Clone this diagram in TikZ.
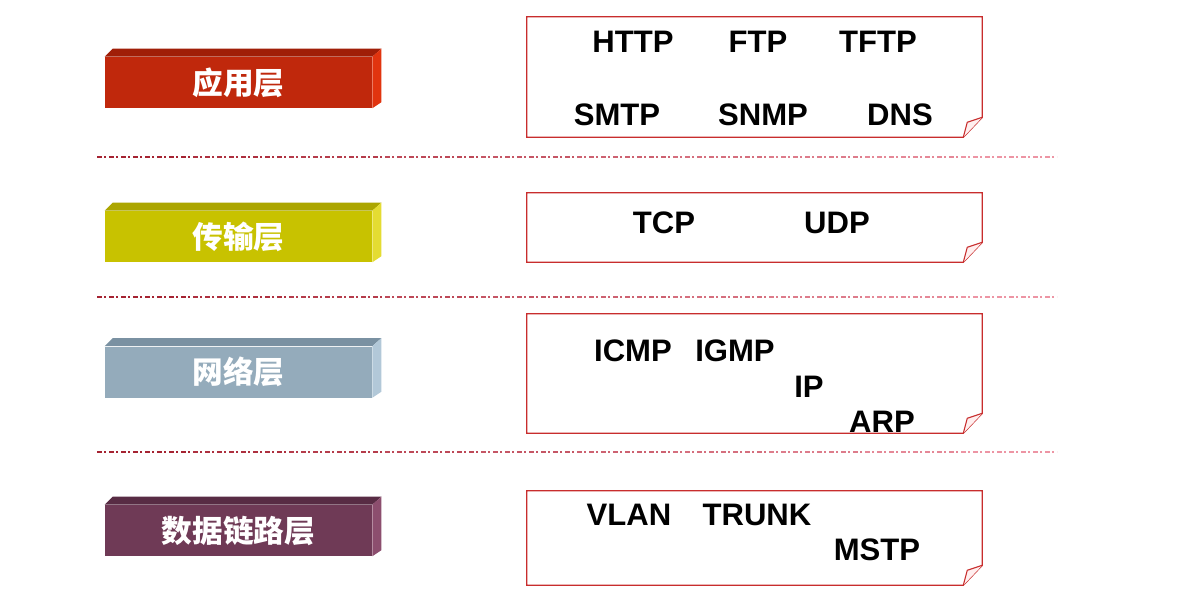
\documentclass[tikz,border=0pt]{standalone}
\usepackage{fontspec}
\setmainfont{Liberation Sans}
\newfontfamily\cjk{Noto Sans CJK SC}
\usetikzlibrary{calc}
\definecolor{boxred}{RGB}{200,45,45}
\definecolor{sepD}{RGB}{165,35,50}
\definecolor{sepL}{RGB}{238,150,165}
\definecolor{rF}{RGB}{192,40,12}\definecolor{rT}{RGB}{160,30,8}\definecolor{rS}{RGB}{225,52,15}
\definecolor{yF}{RGB}{200,194,0}\definecolor{yT}{RGB}{172,166,0}\definecolor{yS}{RGB}{228,220,50}
\definecolor{bF}{RGB}{148,171,187}\definecolor{bT}{RGB}{122,145,162}\definecolor{bS}{RGB}{178,200,216}
\definecolor{pF}{RGB}{111,58,86}\definecolor{pT}{RGB}{88,44,68}\definecolor{pS}{RGB}{140,78,110}
\tikzset{
  x=0.75pt, y=-0.75pt,
  bar/.style={minimum width=200.25pt, minimum height=38.25pt, inner sep=0pt, text=white,
     font=\cjk\bfseries\fontsize{23}{23}\selectfont},
  proto/.style={inner sep=0pt, text=black, font=\bfseries\fontsize{23.3}{23.3}\selectfont},
  boxline/.style={draw=boxred, line width=1pt},
  sep/.style={line width=1.6pt, dash pattern=on 3.75pt off 1.85pt on 1.5pt off 1.9pt},
  frame/.style={minimum width=341.25pt, inner sep=0pt}
}
\newcommand\foldbox[1]{%
  \draw[boxline, fill=white] (#1.north west) -- (#1.north east) -- ($(#1.south east)+(0,-20)$)
     -- ($(#1.south east)+(-19,0)$) -- (#1.south west) -- cycle;
  \filldraw[boxline, fill=pink!25, line width=0.8pt] ($(#1.south east)+(-19,0)$) -- ($(#1.south east)+(-15,-15)$) -- ($(#1.south east)+(0,-20)$);}
\newcommand\barfaces[3]{%
  \fill[#2] (#1.north west) -- ++(8,-8) -- ($(#1.north east)+(9,-8)$) -- (#1.north east) -- cycle;
  \fill[#3] (#1.north east) -- ++(9,-8) -- ($(#1.south east)+(9,-6)$) -- (#1.south east) -- cycle;}
\begin{document}
\begin{tikzpicture}
\useasboundingbox[fill=white] (0,0) rectangle (1198,608);
% separators
\foreach \yy in {157,297,452}{
  \foreach \i in {0,...,9}{
    \pgfmathtruncatemacro\t{100-\i*11}
    \draw[sep, color=sepD!\t!sepL] (97+\i*96,\yy) -- (97+\i*96+96,\yy);
  }
}
% layer bars
\node[bar, fill=rF] (app) at (238.5,82.5) {应用层};
\barfaces{app}{rT}{rS}
\node[bar, fill=yF] (trans) at (238.5,236.5) {传输层};
\barfaces{trans}{yT}{yS}
\node[bar, fill=bF] (net) at (238.5,372) {网络层};
\barfaces{net}{bT}{bS}
\node[bar, fill=pF] (link) at (238.5,530.5) {数据链路层};
\barfaces{link}{pT}{pS}
% protocol frames
\node[frame, minimum height=90pt] (f1) at (754.5,77) {};
\foldbox{f1}
\node[frame, minimum height=51.75pt] (f2) at (754.5,227.5) {};
\foldbox{f2}
\node[frame, minimum height=89.25pt] (f3) at (754.5,373.5) {};
\foldbox{f3}
\node[frame, minimum height=70.5pt] (f4) at (754.5,538) {};
\foldbox{f4}
% protocols
\node[proto] (http) at (633,42) {HTTP};
\node[proto] (ftp) at (758,42) {FTP};
\node[proto] (tftp) at (878,42) {TFTP};
\node[proto] (smtp) at (617,115) {SMTP};
\node[proto] (snmp) at (763,115) {SNMP};
\node[proto] (dns) at (900,115) {DNS};
\node[proto] (tcp) at (664,223) {TCP};
\node[proto] (udp) at (837,223) {UDP};
\node[proto] (icmp) at (633,351) {ICMP};
\node[proto] (igmp) at (735,351) {IGMP};
\node[proto] (ip) at (809,387) {IP};
\node[proto] (arp) at (882,422) {ARP};
\node[proto] (vlan) at (629,515) {VLAN};
\node[proto] (trunk) at (757,515) {TRUNK};
\node[proto] (mstp) at (877,550) {MSTP};
\end{tikzpicture}
\end{document}
